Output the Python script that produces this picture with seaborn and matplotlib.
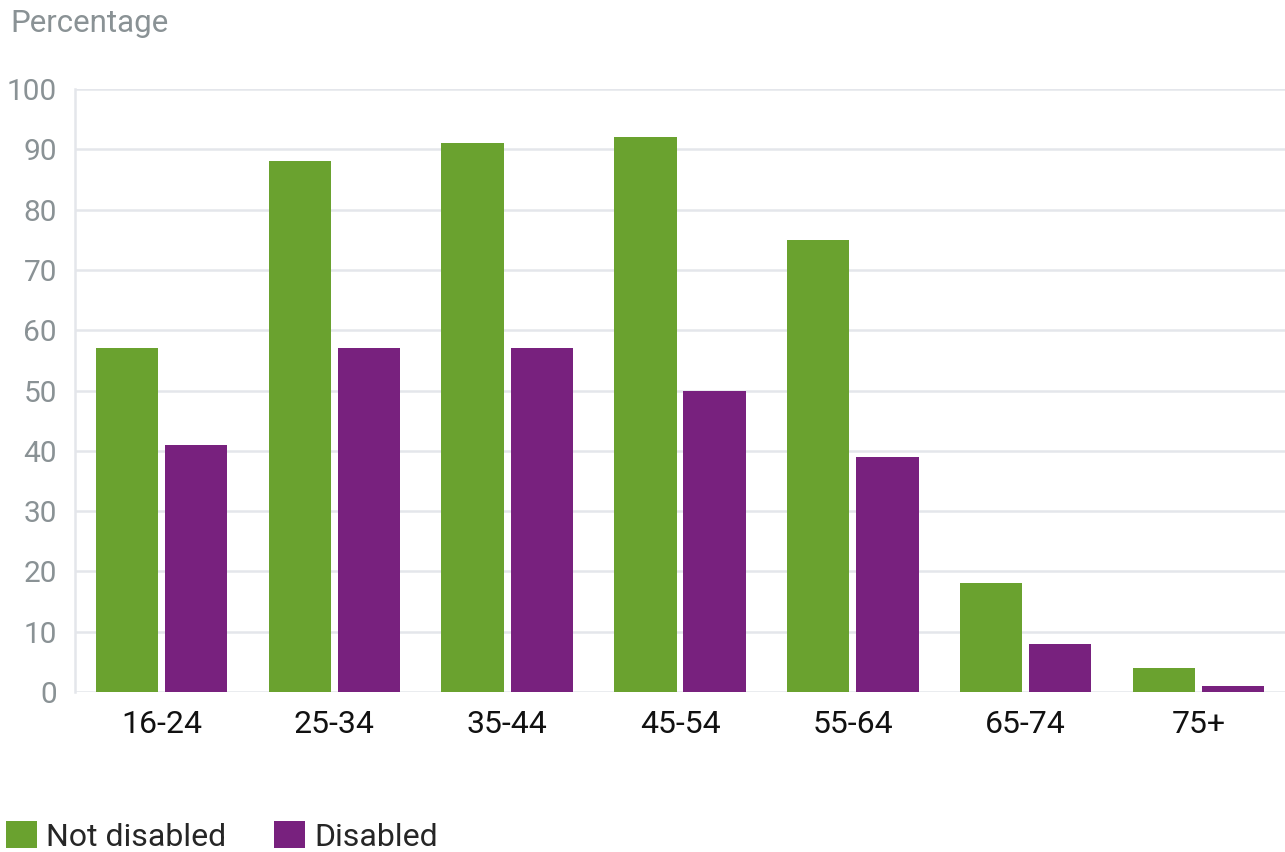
import matplotlib
matplotlib.use("Agg")
import matplotlib.pyplot as plt
from matplotlib.patches import Patch
import seaborn as sns
import pandas as pd

categories = ["16-24", "25-34", "35-44", "45-54", "55-64", "65-74", "75+"]
not_disabled = [57, 88, 91, 92, 75, 18, 4]
disabled = [41, 57, 57, 50, 39, 8, 1]
series_names = ["Not disabled", "Disabled"]
colors = ["#6aa22f", "#78217e"]
yticks = [0, 10, 20, 30, 40, 50, 60, 70, 80, 90, 100]

df = pd.DataFrame({
    "age": categories * 2,
    "value": not_disabled + disabled,
    "group": [series_names[0]] * len(categories) + [series_names[1]] * len(categories),
})

sns.set_theme(style="white")
plt.rcParams["font.family"] = ["Roboto", "DejaVu Sans"]

fig = plt.figure(figsize=(12.85, 8.52), dpi=100)
ax = fig.add_axes([75 / 1285, 1 - 692 / 852, 1 - 75 / 1285, (692 - 89) / 852])

sns.barplot(data=df, x="age", y="value", hue="group", order=categories,
            hue_order=series_names, palette=colors, width=0.8, gap=0.1,
            saturation=1, legend=False, ax=ax, zorder=3, linewidth=0)

ax.set_xlim(-0.5, len(categories) - 0.5)
ax.set_ylim(0, 100)
ax.set_yticks(yticks)
ax.yaxis.grid(True, color="#e4e6eb", linewidth=1.8, zorder=0)
ax.set_axisbelow(True)
for s in ["top", "right", "bottom"]:
    ax.spines[s].set_visible(False)
ax.spines["left"].set_color("#e4e6eb")
ax.spines["left"].set_linewidth(1.8)
ax.set_xlabel("")
ax.set_ylabel("")
ax.tick_params(axis="y", length=0, pad=13, labelsize=21.5, labelcolor="#8a9295")
ax.tick_params(axis="x", length=0, pad=13, labelsize=23, labelcolor="#111111")

fig.text(10 / 1285, 1 - 23 / 852, "Percentage", fontsize=22.5, color="#8a9295",
         ha="left", va="center")

handles = [Patch(facecolor=c, edgecolor="none") for c in colors]
fig.legend(handles, series_names, loc="lower left", bbox_to_anchor=(0.0, -0.007),
           ncol=2, frameon=False, fontsize=23, handlelength=0.95, handleheight=0.95,
           handletextpad=0.3, columnspacing=1.5, borderaxespad=0.0, borderpad=0.2)

fig.savefig("out.png", dpi=100)
